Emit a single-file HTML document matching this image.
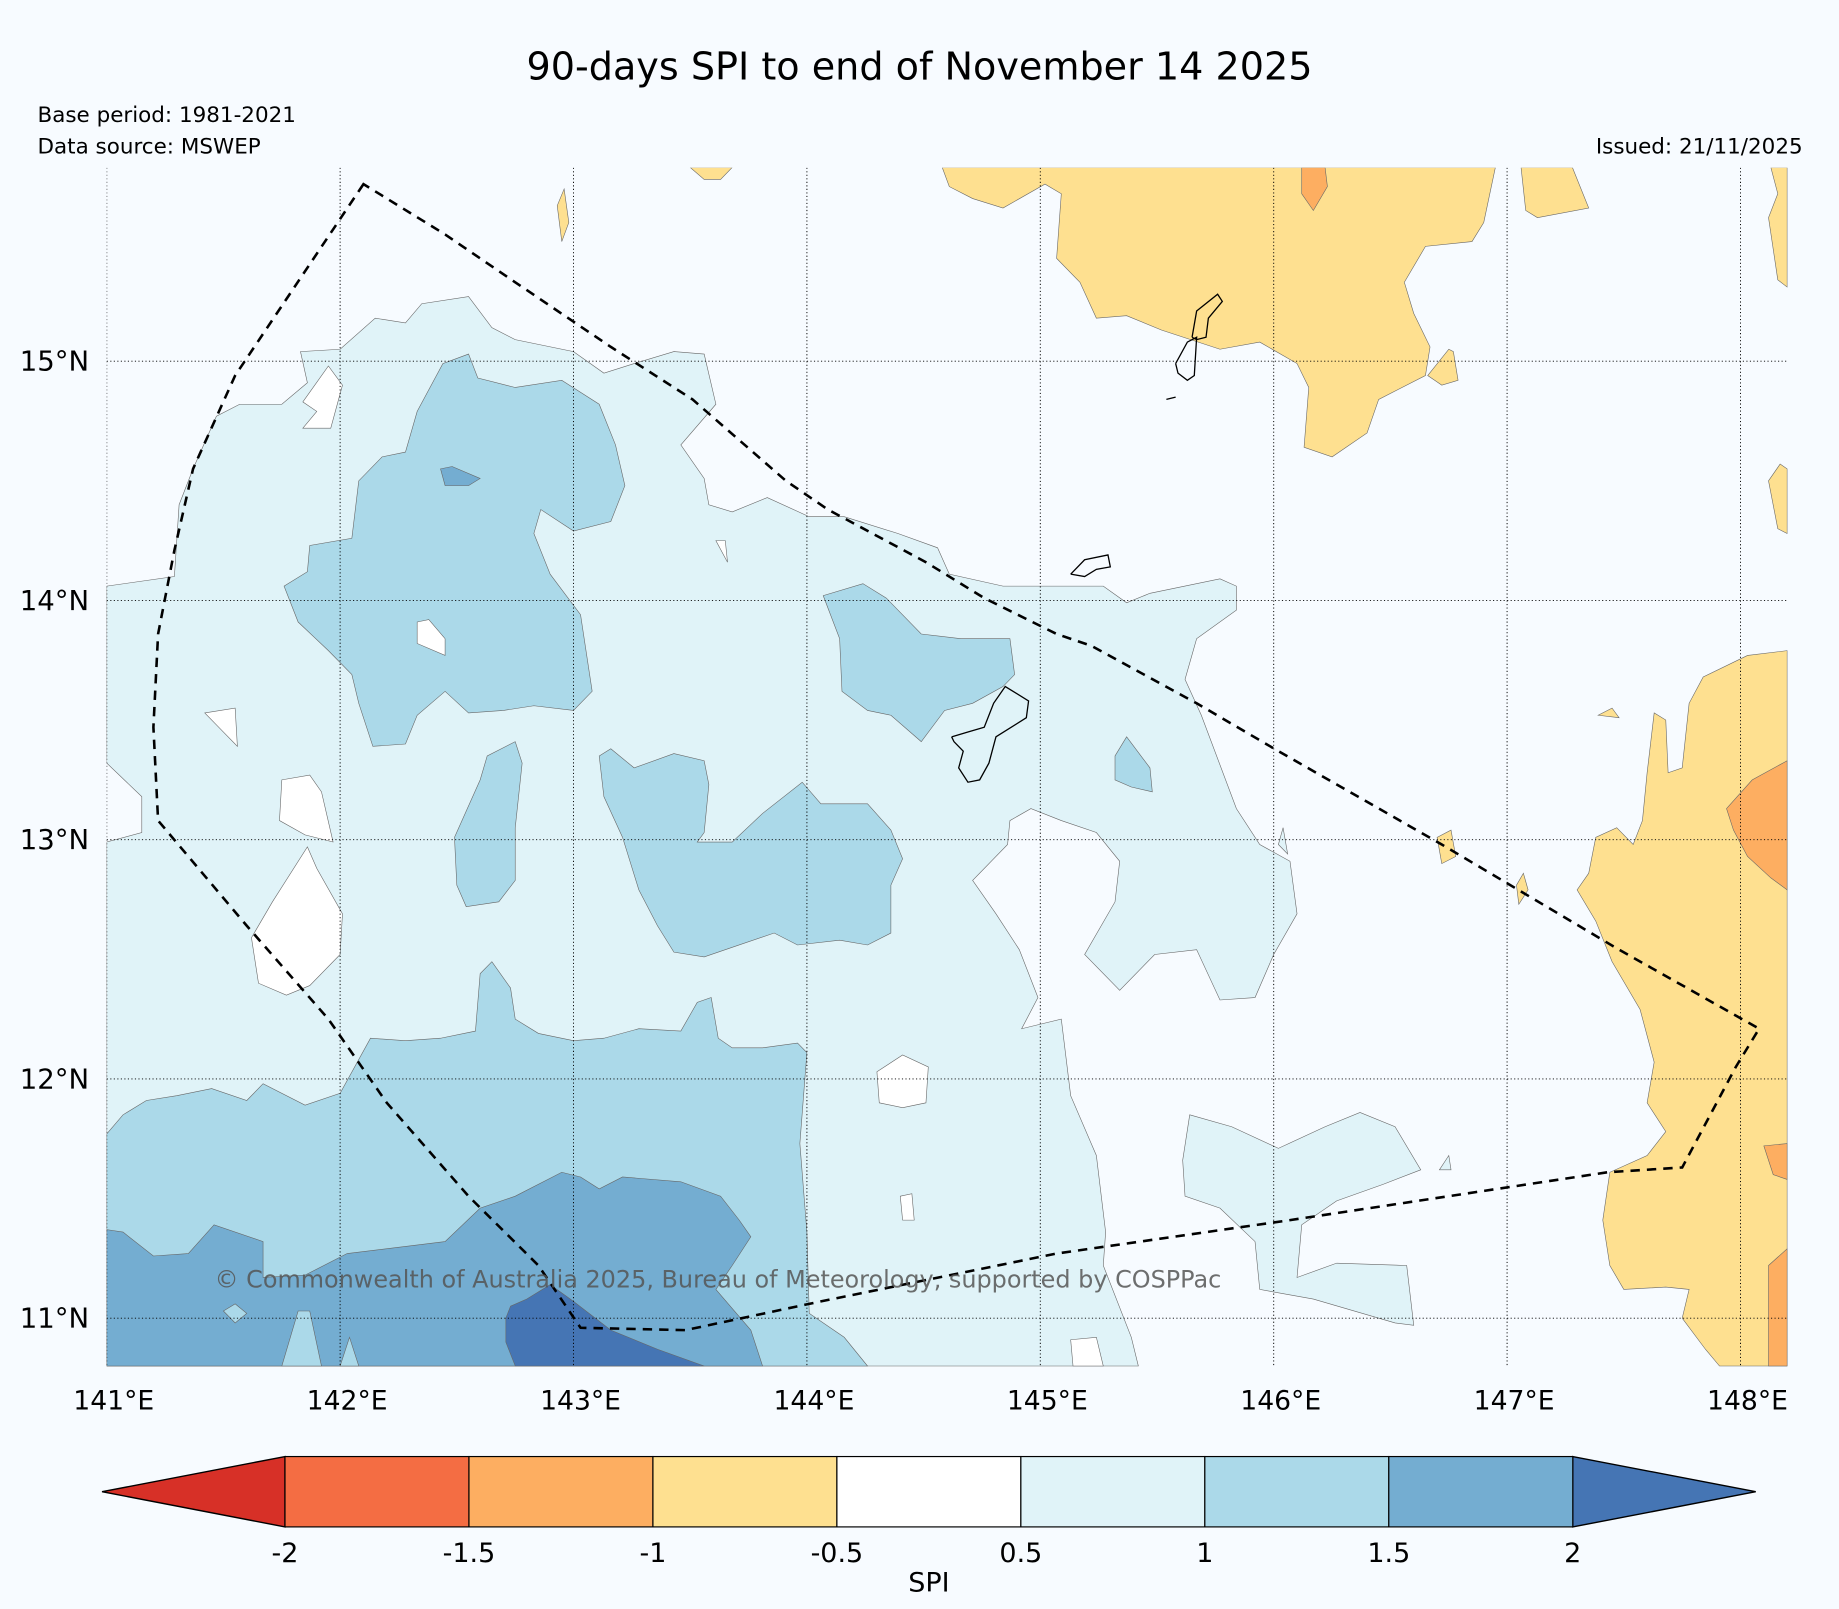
<!DOCTYPE html>
<html><head><meta charset="utf-8"><style>
html,body{margin:0;padding:0;background:#f7fbff;}
svg{display:block;font-family:"DejaVu Sans","Liberation Sans",sans-serif;}
</style></head><body>
<svg id="chart" width="1839" height="1609" viewBox="0 0 1568 1372" preserveAspectRatio="none" xmlns="http://www.w3.org/2000/svg">
<rect x="0" y="0" width="1568" height="1372" fill="#f7fbff"/>
<text x="784" y="68" text-anchor="middle" font-size="32.5" fill="#000">90-days SPI to end of November 14 2025</text>
<text x="32" y="104" font-size="18.3">Base period: 1981-2021</text>
<text x="32" y="131" font-size="18.3">Data source: MSWEP</text>
<text x="1537" y="131" font-size="18.3" text-anchor="end">Issued: 21/11/2025</text>
<defs><clipPath id="mapclip"><rect x="91" y="143" width="1433" height="1023"/></clipPath></defs>
<g id="map" clip-path="url(#mapclip)"></g>
<g id="axes"></g>
<g id="cbar"></g>
</svg>
<script>
// categories / levels
const levelBounds = [-2, -1.5, -1, -0.5, 0.5, 1, 1.5, 2];
const levelColors = ["#d73027","#f46d43","#fdae61","#fee090","#ffffff","#e0f3f8","#abd9e9","#74add1","#4575b4"];
const lonTicks = [141,142,143,144,145,146,147,148];
const latTicks = [11,12,13,14,15];
const lonTickLabels = ["141°E","142°E","143°E","144°E","145°E","146°E","147°E","148°E"];
const latTickLabels = ["11°N","12°N","13°N","14°N","15°N"];
const cbarTickLabels = ["-2","-1.5","-1","-0.5","0.5","1","1.5","2"];

// contour regions: [level index, [[lon,lat],...]]
const regionLB1 = [[141.00,14.06],[141.29,14.10],[141.31,14.40],[141.37,14.55],[141.47,14.77],[141.57,14.82],[141.75,14.82],[141.86,14.91],[141.83,15.04],[142.00,15.05],[142.15,15.18],[142.28,15.16],[142.35,15.24],[142.55,15.27],[142.65,15.14],[142.75,15.09],[143.00,15.04],[143.13,14.95],[143.26,14.99],[143.43,15.04],[143.56,15.03],[143.61,14.82],[143.46,14.65],[143.56,14.51],[143.58,14.40],[143.68,14.37],[143.83,14.43],[144.01,14.35],[144.16,14.35],[144.39,14.28],[144.56,14.22],[144.61,14.11],[144.84,14.06],[145.27,14.06],[145.37,13.99],[145.47,14.03],[145.77,14.09],[145.84,14.06],[145.84,13.96],[145.67,13.84],[145.62,13.67],[145.69,13.52],[145.84,13.13],[145.94,12.98],[146.07,12.91],[146.10,12.69],[146.00,12.52],[145.92,12.34],[145.77,12.33],[145.67,12.54],[145.49,12.52],[145.34,12.37],[145.19,12.52],[145.32,12.74],[145.34,12.91],[145.24,13.03],[145.09,13.08],[144.96,13.13],[144.87,13.08],[144.86,12.98],[144.71,12.83],[144.81,12.69],[144.91,12.54],[144.99,12.34],[144.92,12.21],[145.09,12.25],[145.13,11.93],[145.24,11.68],[145.28,11.36],[145.27,11.22],[145.39,10.92],[145.42,10.80],[141.00,10.80],[141.00,12.99],[141.15,13.03],[141.15,13.18],[141.00,13.32]];
const regionLB2 = [[145.64,11.85],[145.82,11.80],[146.02,11.71],[146.22,11.80],[146.37,11.86],[146.52,11.80],[146.63,11.62],[146.47,11.56],[146.27,11.49],[146.12,11.39],[146.10,11.17],[146.27,11.23],[146.57,11.22],[146.60,10.97],[146.52,10.98],[146.17,11.08],[145.94,11.12],[145.92,11.32],[145.77,11.46],[145.62,11.51],[145.61,11.66]];
const regionLB3 = [[146.02,12.98],[146.04,13.05],[146.06,12.94]];
const regionLB4 = [[146.71,11.62],[146.75,11.68],[146.76,11.62]];
const holeW1 = [[141.42,13.53],[141.55,13.55],[141.56,13.39],[141.50,13.45]];
const holeW2 = [[141.75,13.25],[141.87,13.27],[141.92,13.20],[141.97,12.99],[141.85,13.02],[141.74,13.08]];
const holeW3 = [[141.62,12.59],[141.71,12.74],[141.86,12.97],[141.90,12.88],[142.01,12.69],[142.00,12.52],[141.87,12.39],[141.77,12.35],[141.65,12.40]];
const holeW4 = [[141.84,14.83],[141.95,14.98],[142.01,14.90],[141.96,14.72],[141.84,14.72],[141.90,14.79]];
const holeW5 = [[143.61,14.25],[143.65,14.25],[143.66,14.16]];
const holeW6 = [[144.30,12.03],[144.41,12.10],[144.52,12.05],[144.51,11.90],[144.41,11.88],[144.31,11.90]];
const holeW7 = [[144.40,11.51],[144.45,11.52],[144.46,11.41],[144.41,11.41]];
const holeW8 = [[145.13,10.91],[145.24,10.92],[145.27,10.80],[145.14,10.80]];
const regionMA = [[141.76,14.06],[141.86,14.12],[141.87,14.23],[142.05,14.26],[142.08,14.50],[142.18,14.60],[142.28,14.62],[142.33,14.79],[142.44,14.99],[142.55,15.03],[142.59,14.93],[142.75,14.89],[142.95,14.92],[143.11,14.82],[143.18,14.65],[143.22,14.48],[143.16,14.33],[143.00,14.29],[142.86,14.38],[142.83,14.28],[142.90,14.11],[143.03,13.94],[143.08,13.62],[143.00,13.54],[142.83,13.56],[142.70,13.54],[142.55,13.53],[142.45,13.62],[142.33,13.52],[142.28,13.40],[142.14,13.39],[142.08,13.57],[142.05,13.69],[141.95,13.79],[141.82,13.91]];
const holeW9 = [[142.33,13.91],[142.38,13.92],[142.45,13.84],[142.45,13.77],[142.33,13.82]];
const spotD1 = [[142.43,14.55],[142.48,14.56],[142.60,14.51],[142.55,14.48],[142.45,14.48]];
const regionMB = [[142.49,13.01],[142.60,13.25],[142.63,13.35],[142.75,13.41],[142.78,13.32],[142.75,13.05],[142.75,12.83],[142.68,12.74],[142.54,12.72],[142.50,12.81]];
const regionMC = [[143.11,13.35],[143.16,13.38],[143.26,13.30],[143.43,13.36],[143.56,13.33],[143.58,13.23],[143.56,13.03],[143.53,12.99],[143.68,12.99],[143.81,13.11],[143.98,13.24],[144.06,13.15],[144.26,13.15],[144.36,13.04],[144.41,12.92],[144.36,12.81],[144.36,12.61],[144.26,12.56],[144.14,12.58],[143.96,12.56],[143.86,12.61],[143.68,12.55],[143.56,12.51],[143.43,12.53],[143.36,12.64],[143.28,12.79],[143.21,13.01],[143.13,13.18]];
const regionMD = [[144.07,14.02],[144.24,14.07],[144.34,14.01],[144.49,13.86],[144.66,13.84],[144.87,13.84],[144.89,13.69],[144.84,13.64],[144.71,13.57],[144.59,13.54],[144.49,13.41],[144.36,13.52],[144.26,13.54],[144.15,13.62],[144.14,13.84]];
const regionME = [[145.32,13.35],[145.37,13.43],[145.47,13.30],[145.48,13.20],[145.39,13.22],[145.32,13.25]];
const regionMF = [[141.00,11.77],[141.07,11.85],[141.17,11.91],[141.30,11.93],[141.45,11.96],[141.60,11.91],[141.67,11.98],[141.85,11.89],[142.00,11.94],[142.13,12.17],[142.28,12.16],[142.43,12.17],[142.58,12.20],[142.60,12.44],[142.65,12.49],[142.73,12.38],[142.75,12.25],[142.85,12.19],[143.00,12.16],[143.13,12.17],[143.28,12.21],[143.46,12.20],[143.53,12.32],[143.59,12.34],[143.62,12.17],[143.68,12.13],[143.81,12.13],[143.96,12.15],[144.00,12.11],[143.97,11.73],[144.00,11.36],[144.01,11.02],[144.16,10.92],[144.26,10.80],[141.00,10.80]];
const regionDG = [[141.00,11.37],[141.07,11.36],[141.20,11.26],[141.35,11.27],[141.46,11.39],[141.67,11.32],[141.67,11.17],[141.85,11.18],[142.03,11.27],[142.45,11.32],[142.60,11.46],[142.75,11.51],[142.95,11.61],[143.03,11.59],[143.11,11.54],[143.21,11.59],[143.46,11.57],[143.63,11.51],[143.71,11.41],[143.76,11.34],[143.68,11.22],[143.61,11.12],[143.76,10.95],[143.81,10.80],[141.00,10.80]];
const holeM1 = [[141.75,10.80],[141.82,11.03],[141.87,11.03],[141.92,10.80]];
const holeM2 = [[142.00,10.80],[142.04,10.92],[142.08,10.80]];
const holeM3 = [[141.50,11.03],[141.55,11.06],[141.60,11.02],[141.55,10.98]];
const regionXH = [[142.73,11.05],[142.80,11.08],[142.90,11.14],[143.00,11.07],[143.16,10.95],[143.36,10.87],[143.56,10.80],[142.75,10.80],[142.71,10.90],[142.71,11.00]];
const regionY1 = [[144.58,15.81],[144.61,15.73],[144.71,15.68],[144.84,15.64],[145.02,15.74],[145.09,15.70],[145.07,15.43],[145.17,15.33],[145.24,15.18],[145.37,15.19],[145.52,15.13],[145.77,15.05],[145.94,15.08],[146.10,14.99],[146.15,14.89],[146.13,14.64],[146.25,14.60],[146.40,14.70],[146.45,14.84],[146.65,14.94],[146.67,15.06],[146.60,15.20],[146.56,15.33],[146.65,15.48],[146.85,15.50],[146.90,15.58],[146.95,15.81]];
const regionY2 = [[147.06,15.81],[147.28,15.81],[147.35,15.64],[147.13,15.60],[147.08,15.63]];
const regionY3 = [[148.13,15.81],[148.20,15.81],[148.20,15.31],[148.16,15.34],[148.12,15.60],[148.16,15.70]];
const regionY4 = [[148.12,14.50],[148.17,14.57],[148.20,14.55],[148.20,14.28],[148.16,14.30]];
const regionY5 = [[143.50,15.81],[143.68,15.81],[143.63,15.76],[143.56,15.76]];
const regionY6 = [[142.93,15.65],[142.96,15.72],[142.98,15.58],[142.95,15.50]];
const regionY7 = [[146.66,14.94],[146.75,15.05],[146.77,15.04],[146.79,14.92],[146.72,14.90]];
const regionY8 = [[148.20,13.79],[148.03,13.77],[147.84,13.68],[147.78,13.57],[147.75,13.30],[147.69,13.28],[147.68,13.50],[147.63,13.53],[147.60,13.28],[147.58,13.08],[147.54,12.98],[147.47,13.05],[147.38,13.01],[147.35,12.86],[147.30,12.79],[147.38,12.66],[147.45,12.49],[147.57,12.29],[147.63,12.07],[147.60,11.90],[147.68,11.78],[147.60,11.68],[147.44,11.61],[147.41,11.41],[147.44,11.22],[147.50,11.12],[147.68,11.13],[147.78,11.12],[147.75,11.00],[147.85,10.87],[147.91,10.80],[148.20,10.80]];
const regionY9 = [[147.39,13.52],[147.45,13.55],[147.48,13.51]];
const regionY10 = [[146.70,13.01],[146.76,13.04],[146.78,12.93],[146.72,12.90]];
const regionY11 = [[147.04,12.81],[147.07,12.86],[147.09,12.79],[147.05,12.73]];
const regionO1 = [[146.12,15.81],[146.22,15.81],[146.23,15.73],[146.17,15.63],[146.12,15.70]];
const regionO2 = [[147.94,13.13],[148.05,13.25],[148.20,13.33],[148.20,12.79],[148.13,12.84],[148.03,12.93],[147.97,13.04]];
const regionO3 = [[148.10,11.72],[148.20,11.73],[148.20,11.58],[148.14,11.60]];
const regionO4 = [[148.12,11.22],[148.20,11.29],[148.20,10.80],[148.12,10.80]];
const regionLevels = [
  [5, regionLB1],[5, regionLB2],[5, regionLB3],[5, regionLB4],
  [4, holeW1],[4, holeW2],[4, holeW3],[4, holeW4],[4, holeW5],[4, holeW6],[4, holeW7],[4, holeW8],
  [6, regionMA],[4, holeW9],[7, spotD1],[6, regionMB],[6, regionMC],[6, regionMD],[6, regionME],[6, regionMF],
  [7, regionDG],[6, holeM1],[6, holeM2],[6, holeM3],[8, regionXH],
  [3, regionY1],[3, regionY2],[3, regionY3],[3, regionY4],[3, regionY5],[3, regionY6],[3, regionY7],[3, regionY8],[3, regionY9],[3, regionY10],[3, regionY11],
  [2, regionO1],[2, regionO2],[2, regionO3],[2, regionO4]
];
// coastlines
const islandA = [[145.65,15.10],[145.67,15.21],[145.76,15.28],[145.78,15.25],[145.72,15.18],[145.71,15.10],[145.67,15.09]];
const islandB = [[145.58,14.99],[145.63,15.08],[145.67,15.10],[145.66,14.94],[145.63,14.92],[145.59,14.95]];
const islandC = [[145.54,14.84],[145.58,14.85]];
const islandD = [[145.13,14.11],[145.19,14.17],[145.29,14.19],[145.30,14.14],[145.24,14.13],[145.19,14.10]];
const islandGuam = [[144.62,13.43],[144.69,13.45],[144.76,13.47],[144.80,13.57],[144.85,13.64],[144.95,13.58],[144.94,13.51],[144.81,13.43],[144.78,13.32],[144.74,13.25],[144.69,13.24],[144.65,13.30],[144.67,13.37],[144.63,13.41]];
const islands = [islandA, islandB, islandC, islandD, islandGuam];
// EEZ dashed boundary
const boundary = [[142.10,15.74],[141.55,14.94],[141.37,14.55],[141.29,14.21],[141.22,13.86],[141.20,13.47],[141.22,13.08],[141.60,12.64],[141.95,12.25],[142.20,11.90],[142.55,11.51],[142.85,11.22],[143.03,10.96],[143.48,10.95],[144.06,11.07],[145.07,11.27],[146.07,11.41],[147.43,11.61],[147.75,11.63],[147.98,12.05],[148.08,12.21],[147.48,12.54],[146.72,12.98],[146.02,13.37],[145.67,13.57],[145.22,13.81],[145.07,13.86],[144.76,14.01],[144.51,14.16],[144.09,14.38],[143.91,14.50],[143.51,14.84],[143.16,15.06],[142.75,15.33],[142.45,15.53]];

const NS = "http://www.w3.org/2000/svg";
function xOf(lon){ return 91 + 199*(lon-141); }
function yOf(lat){ return 308 + 204*(15-lat); }
function pts(arr){ return arr.map(p => xOf(p[0]).toFixed(1)+","+yOf(p[1]).toFixed(1)).join(" "); }
function mk(tag, attrs, parent){ const e=document.createElementNS(NS,tag); for(const k in attrs) e.setAttribute(k,attrs[k]); parent.appendChild(e); return e; }

const map = document.getElementById("map");
regionLevels.forEach((r) => {
  const p = mk("polygon", {points: pts(r[1]), fill: levelColors[r[0]], stroke: "#666", "stroke-width": "0.5"}, map);
  
  
});
// grid
const axes = document.getElementById("axes");
lonTicks.forEach((lon,i) => {
  const l = mk("line", {x1:xOf(lon), x2:xOf(lon), y1:143, y2:1166, stroke:"#000", "stroke-width":"0.8", "stroke-dasharray":"1,2"}, map);
  
  
  const t = mk("text", {x:xOf(lon)+6, y:1202, "font-size":"22.7", "text-anchor":"middle"}, axes);
  t.textContent = lonTickLabels[i];
  
  
});
latTicks.forEach((lat,i) => {
  const l = mk("line", {x1:91, x2:1524, y1:yOf(lat), y2:yOf(lat), stroke:"#000", "stroke-width":"0.8", "stroke-dasharray":"1,2"}, map);
  
  
  const t = mk("text", {x:76, y:yOf(lat)+8, "font-size":"23.5", "text-anchor":"end"}, axes);
  t.textContent = latTickLabels[i];
  
  
});
islands.forEach(isl => {
  const c = mk("polyline", {points: pts(isl.concat([isl[0]])), fill:"none", stroke:"#000", "stroke-width":"1.1"}, map);
  
  
});
const b = mk("polygon", {points: pts(boundary), fill:"none", stroke:"#000", "stroke-width":"2.2", "stroke-dasharray":"8,6"}, map);


const cp = mk("text", {x:183, y:1098, "font-size":"20.4", fill:"#555", "fill-opacity":"0.85"}, map);
cp.textContent = "© Commonwealth of Australia 2025, Bureau of Meteorology, supported by COSPPac";



// colorbar
const cb = document.getElementById("cbar");
const cbX0 = 243, cbX1 = 1341, cbY0 = 1242, cbY1 = 1302;
const nSeg = levelBounds.length - 1;
const segW = (cbX1 - cbX0) / nSeg;
const lo = mk("polygon", {points: `87,${(cbY0+cbY1)/2} ${cbX0},${cbY0} ${cbX0},${cbY1}`, fill: levelColors[0], stroke:"#000", "stroke-width":"1.2"}, cb);


const hi = mk("polygon", {points: `1497,${(cbY0+cbY1)/2} ${cbX1},${cbY0} ${cbX1},${cbY1}`, fill: levelColors[8], stroke:"#000", "stroke-width":"1.2"}, cb);


for (let i = 0; i < nSeg; i++) {
  const r = mk("rect", {x: cbX0 + i*segW, y: cbY0, width: segW, height: cbY1-cbY0, fill: levelColors[i+1], stroke:"#000", "stroke-width":"1"}, cb);
  
  
}
levelBounds.forEach((v,i) => {
  const t = mk("text", {x: cbX0 + i*segW, y: 1332, "font-size":"23", "text-anchor":"middle"}, cb);
  t.textContent = cbarTickLabels[i];
  
  
});
const sl = mk("text", {x: 792, y: 1357, "font-size":"23", "text-anchor":"middle"}, cb);
sl.textContent = "SPI";


</script>
</body></html>
